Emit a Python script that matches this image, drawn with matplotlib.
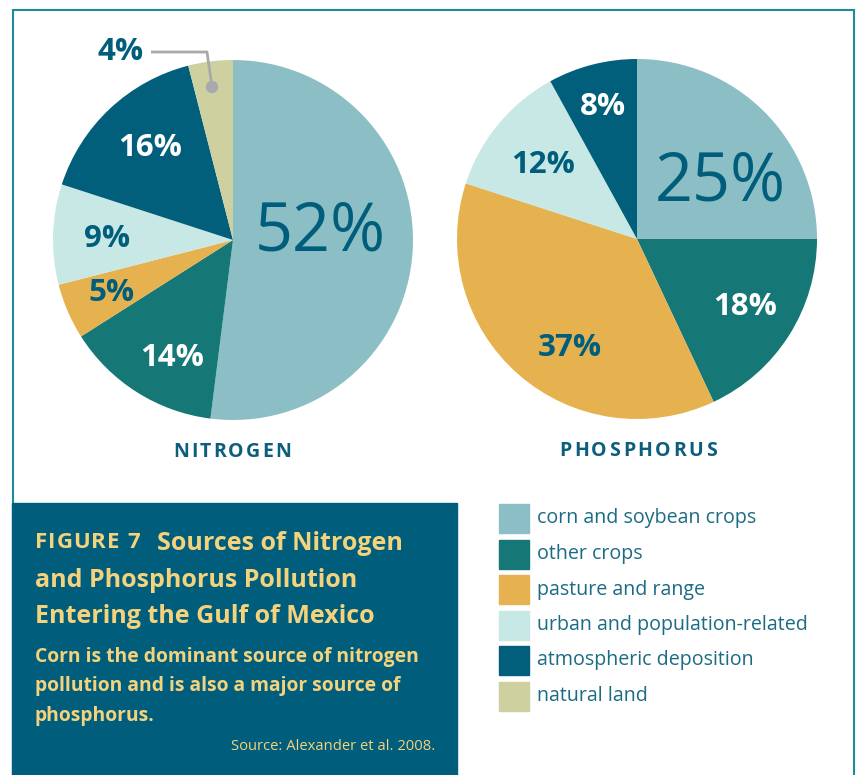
import matplotlib
matplotlib.use("Agg")
import matplotlib.pyplot as plt
from matplotlib.patches import Rectangle, Circle

plt.rcParams['font.family'] = ['Open Sans', 'DejaVu Sans']

# data
categories = ["corn and soybean crops", "other crops", "pasture and range",
              "urban and population-related", "atmospheric deposition", "natural land"]
colors = ["#8CBFC5", "#167876", "#E6B250", "#C8E8E5", "#025F7C", "#CED09F"]
nitrogen = [52, 14, 5, 9, 16, 4]
phosphorus = [25, 18, 37, 12, 8]

W, H = 856, 775
dark = "#005E7C"
yellow = "#F5D37C"


def Y(p):
    # pixel row -> data y
    return H - p


fig = plt.figure(figsize=(W / 100, H / 100), dpi=100)
ax = fig.add_axes([0, 0, 1, 1])
renderer = fig.canvas.get_renderer()


def spaced_text(x, y, s, gap, align='left', **kw):
    # draw letters one by one so we get some tracking
    widths = []
    for ch in s:
        t = ax.text(0, 0, ch, **kw)
        widths.append(t.get_window_extent(renderer).width)
        t.remove()
    total = sum(widths) + gap * (len(s) - 1)
    cx = x - total / 2 if align == 'center' else x
    for ch, w in zip(s, widths):
        ax.text(cx, y, ch, va='center', **kw)
        cx += w + gap


# pies
ax.pie(nitrogen, colors=colors[:len(nitrogen)], startangle=90, counterclock=False,
       center=(233, Y(240)), radius=180, wedgeprops=dict(linewidth=0))
ax.pie(phosphorus, colors=colors[:len(phosphorus)], startangle=90, counterclock=False,
       center=(637, Y(239)), radius=180, wedgeprops=dict(linewidth=0))

ax.set_xlim(0, W)
ax.set_ylim(0, H)
ax.set_aspect('equal')
ax.axis('off')

# percentage labels: (x, y, colour, big?)
n_pos = [(320, 233, dark, True), (172, 358, "white", False), (112, 293, dark, False),
         (107, 239, dark, False), (150, 148, "white", False), (121, 52, dark, False)]
p_pos = [(720, 183, dark, True), (745, 307, "white", False), (570, 348, dark, False),
         (543, 165, dark, False), (603, 107, "white", False)]

for vals, pos in [(nitrogen, n_pos), (phosphorus, p_pos)]:
    for v, (x, y, c, big) in zip(vals, pos):
        if big:
            ax.text(x, Y(y), f"{v}%", color=c, fontsize=48, fontweight='normal',
                    ha='center', va='center')
        else:
            ax.text(x, Y(y), f"{v}%", color=c, fontsize=22.5, fontweight='bold',
                    ha='center', va='center')

# leader line for the small natural land slice
ax.plot([151, 207, 212], [Y(52), Y(52), Y(87)], color="#A7A9AC", lw=2, solid_capstyle='butt')
ax.add_patch(Circle((212, Y(87)), 5.5, color="#A7A9AC", zorder=5))

# pie titles
spaced_text(232, Y(452), "NITROGEN", 2.2, align='center', color="#0B5F7C",
            fontsize=14, fontweight='bold')
spaced_text(638, Y(451), "PHOSPHORUS", 2.6, align='center', color="#0B5F7C",
            fontsize=14, fontweight='bold')

# frame
ax.add_patch(Rectangle((13, Y(778)), 841, 768, fill=False, edgecolor="#1A8C9C", lw=1.5))

# caption box
ax.add_patch(Rectangle((12, 0), 445, H - 503, color=dark, zorder=3))
spaced_text(35, Y(543), "FIGURE 7", 1.0, color=yellow, fontsize=16, fontweight='bold', zorder=4)
ax.text(157, Y(550), "Sources of Nitrogen", color=yellow, fontsize=18, fontweight='bold', zorder=4)
ax.text(35, Y(587), "and Phosphorus Pollution", color=yellow, fontsize=18, fontweight='bold', zorder=4)
ax.text(35, Y(623), "Entering the Gulf of Mexico", color=yellow, fontsize=18, fontweight='bold', zorder=4)
sub = ["Corn is the dominant source of nitrogen",
       "pollution and is also a major source of",
       "phosphorus."]
for i, line in enumerate(sub):
    ax.text(35, Y(662 + 29.5 * i), line, color=yellow, fontsize=13.9, fontweight='bold', zorder=4)
ax.text(435, Y(750), "Source: Alexander et al. 2008.", color=yellow, fontsize=10.6,
        ha='right', zorder=4)

# legend
for i, (cat, col) in enumerate(zip(categories, colors)):
    top = 504 + 35.5 * i
    ax.add_patch(Rectangle((499, Y(top + 29)), 30, 29, color=col))
    ax.text(537, Y(top + 14.5), cat, color="#1C6B84", fontsize=14.1, va='center')

fig.savefig("out.png", dpi=100)
